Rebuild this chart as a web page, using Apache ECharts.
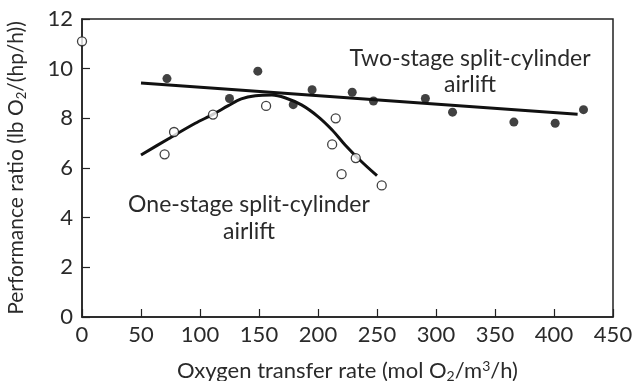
<!DOCTYPE html>
<html><head><meta charset="utf-8">
<script src="https://cdn.jsdelivr.net/npm/echarts@6/dist/echarts.min.js"></script>
<style>html,body{margin:0;padding:0;background:#fff}#c{width:634px;height:381px}</style>
</head><body><div id="c"></div>
<script>
// Two-stage split-cylinder airlift (filled circles)
var twoStageX = [72, 125, 149, 179, 195, 229, 247, 291, 314, 366, 401, 425];
var twoStageY = [9.6, 8.8, 9.9, 8.55, 9.15, 9.05, 8.7, 8.8, 8.25, 7.85, 7.8, 8.35];
// One-stage split-cylinder airlift (open circles)
var oneStageX = [0, 70, 78, 111, 156, 215, 212, 220, 232, 254];
var oneStageY = [11.1, 6.55, 7.45, 8.15, 8.5, 8.0, 6.95, 5.75, 6.4, 5.3];
// Fitted curves
var twoFitX = [50, 420];
var twoFitY = [9.42, 8.16];
var oneFitX = [50, 73, 96, 111, 124, 135, 147, 161, 172, 186, 200, 212, 223, 237, 250];
var oneFitY = [6.52, 7.17, 7.8, 8.16, 8.51, 8.78, 8.91, 8.94, 8.83, 8.54, 8.07, 7.53, 6.93, 6.25, 5.69];

function zip(a, b) { return a.map(function (v, i) { return [v, b[i]]; }); }

var FONT = 'Lato';
var FS = 22;
var TXT = '#2a2a2a';
var chart = echarts.init(document.getElementById('c'));
chart.setOption({
  animation: false,
  grid: { left: 82, right: 21, top: 19, bottom: 64, containLabel: false, outerBoundsMode: 'none', show: true, borderColor: '#222', borderWidth: 1.5 },
  xAxis: {
    type: 'value', min: 0, max: 450, interval: 50,
    axisLine: { lineStyle: { color: '#222', width: 1.5 } },
    axisTick: { inside: true, length: 8, lineStyle: { color: '#222', width: 1.2 } },
    splitLine: { show: false },
    axisLabel: { color: TXT, fontSize: FS, fontFamily: FONT, margin: 7 },
    name: '{a|Oxygen transfer rate (mol O}{sub|2}{a|/m}{sup|3}{a|/h)}',
    nameLocation: 'middle', nameGap: 42,
    nameTextStyle: {
      rich: {
        a: { fontSize: 22, fontFamily: FONT, color: TXT },
        sub: { fontSize: 14, fontFamily: FONT, color: TXT, verticalAlign: 'bottom', padding: [10, 0, 0, 0] },
        sup: { fontSize: 14, fontFamily: FONT, color: TXT, verticalAlign: 'top', padding: [0, 0, 10, 0] }
      }
    }
  },
  yAxis: {
    type: 'value', min: 0, max: 12, interval: 2,
    axisLine: { lineStyle: { color: '#222', width: 1.5 } },
    axisTick: { inside: true, length: 8, lineStyle: { color: '#222', width: 1.2 } },
    splitLine: { show: false },
    axisLabel: { color: TXT, fontSize: FS, fontFamily: FONT, margin: 9 },
    name: '{a|Performance ratio (lb O}{sub|2}{a|/(hp/h))}',
    nameLocation: 'middle', nameGap: 54,
    nameTextStyle: {
      rich: {
        a: { fontSize: 21, fontFamily: FONT, color: TXT },
        sub: { fontSize: 13, fontFamily: FONT, color: TXT, verticalAlign: 'bottom', padding: [10, 0, 0, 0] }
      }
    }
  },
  series: [
    { type: 'line', data: zip(twoFitX, twoFitY), showSymbol: false, lineStyle: { color: '#111', width: 3 }, z: 2 },
    { type: 'line', data: zip(oneFitX, oneFitY), smooth: 0.3, showSymbol: false, lineStyle: { color: '#111', width: 3 }, z: 2 },
    { type: 'scatter', data: zip(twoStageX, twoStageY), symbol: 'circle', symbolSize: 9, itemStyle: { color: '#111' }, clip: false, z: 3 },
    { type: 'scatter', data: zip(oneStageX, oneStageY), symbol: 'circle', symbolSize: 9, itemStyle: { color: '#fff', borderColor: '#111', borderWidth: 1.3 }, clip: false, z: 3 }
  ],
  graphic: [
    { type: 'text', x: 470, y: 72, style: { text: 'Two-stage split-cylinder\nairlift', align: 'center', verticalAlign: 'middle', fontSize: 23, lineHeight: 26, fontFamily: FONT, fill: TXT } },
    { type: 'text', x: 249, y: 218, style: { text: 'One-stage split-cylinder\nairlift', align: 'center', verticalAlign: 'middle', fontSize: 23, lineHeight: 27, fontFamily: FONT, fill: TXT } }
  ]
});
</script></body></html>
